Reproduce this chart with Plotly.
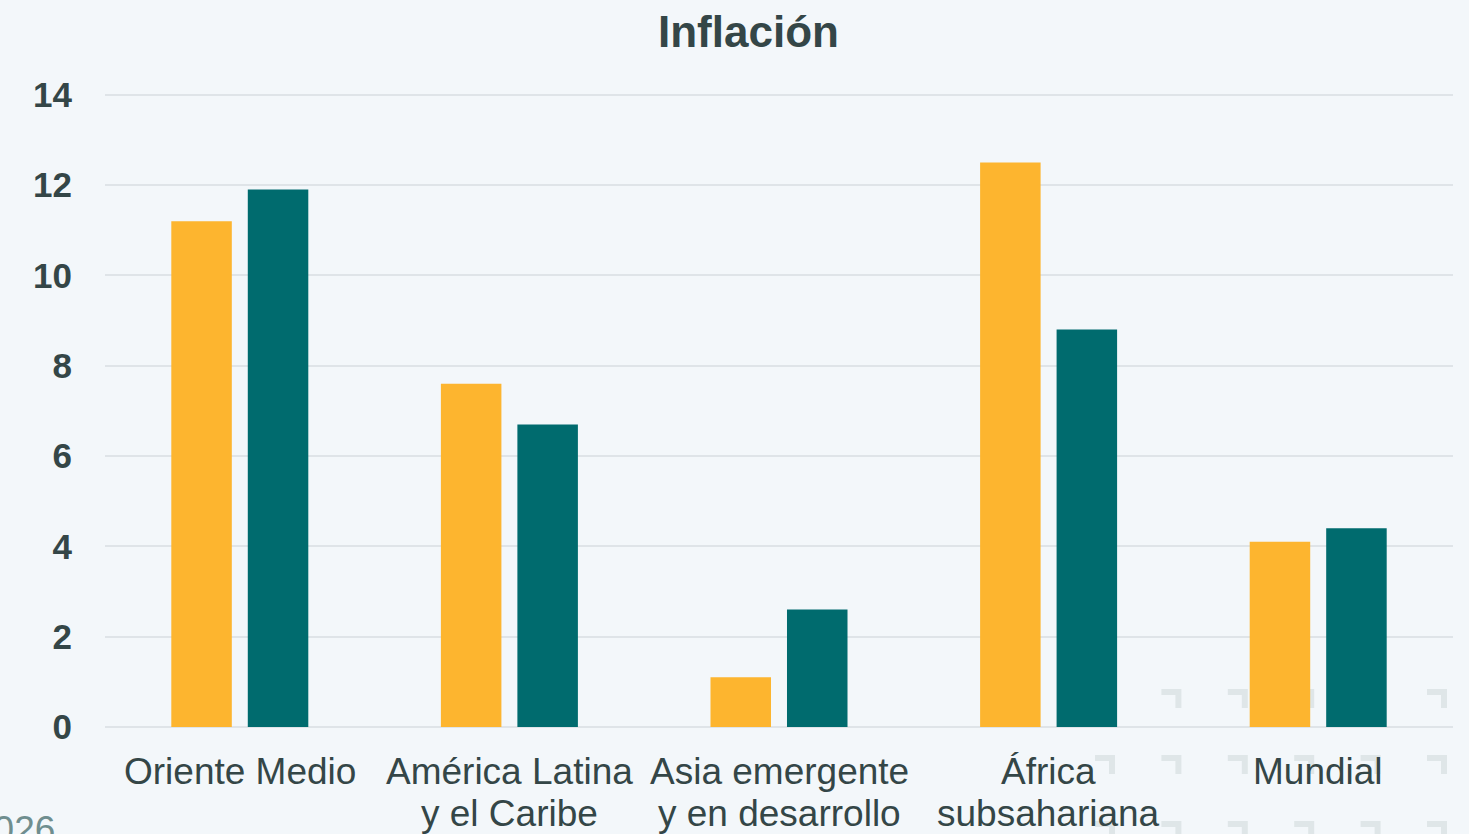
import plotly.graph_objects as go

categories = ["Oriente Medio", "América Latina y el Caribe", "Asia emergente y en desarrollo",
              "África subsahariana", "Mundial"]
label_line1 = ["Oriente Medio", "América Latina", "Asia emergente", "África", "Mundial"]
label_line2 = ["", "y el Caribe", "y en desarrollo", "subsahariana", ""]
series_a = [11.2, 7.6, 1.1, 12.5, 4.1]
series_b = [11.9, 6.7, 2.6, 8.8, 4.4]
y_ticks = [0, 2, 4, 6, 8, 10, 12, 14]

W, H = 1469, 834
Y_TOP = 14.06
ML, MR, MB = 105, 16, 107
PH = (H - MB - 95) * Y_TOP / 14
MT = H - MB - PH
PW = W - ML - MR

def px_x(px):
    return (px - ML) / PW

def px_y(py):
    return (H - MB - py) / PH

BG = "#F3F7FA"
TXT = "#344647"
ORANGE = "#FDB52F"
TEAL = "#006B6E"
FONT = "Liberation Sans, Arial"

fig = go.Figure()
fig.add_trace(go.Bar(x=categories, y=series_a, marker=dict(color=ORANGE, line=dict(width=0)),
                     showlegend=False, hoverinfo="y"))
fig.add_trace(go.Bar(x=categories, y=series_b, marker=dict(color=TEAL, line=dict(width=0)),
                     showlegend=False, hoverinfo="y"))

annotations = [dict(text="<b>Inflación</b>", xref="paper", yref="paper",
                    x=px_x(748), y=px_y(32), xanchor="center", yanchor="middle",
                    showarrow=False, font=dict(size=44, color=TXT, family=FONT))]
for cat, l1, l2 in zip(categories, label_line1, label_line2):
    annotations.append(dict(text=l1, x=cat, xref="x", yref="paper", y=px_y(771), yanchor="middle",
                            xanchor="center", showarrow=False,
                            font=dict(size=37, color=TXT, family=FONT)))
    if l2:
        annotations.append(dict(text=l2, x=cat, xref="x", yref="paper", y=px_y(813), yanchor="middle",
                                xanchor="center", showarrow=False,
                                font=dict(size=37, color=TXT, family=FONT)))
annotations.append(dict(text="2026", xref="paper", yref="paper", x=px_x(57), y=px_y(829),
                        xanchor="right", yanchor="middle", showarrow=False,
                        font=dict(size=37, color="#6F8E8F", family=FONT)))

# decorative corner marks in the background
shapes = []
cols = [1095 + 66.4 * k for k in range(6)]
rows = [689, 755, 821]
for ry in rows:
    for cx in cols:
        path = (f"M {px_x(cx)},{px_y(ry)} L {px_x(cx + 20)},{px_y(ry)} L {px_x(cx + 20)},{px_y(ry + 19)} "
                f"L {px_x(cx + 14)},{px_y(ry + 19)} L {px_x(cx + 14)},{px_y(ry + 6)} L {px_x(cx)},{px_y(ry + 6)} Z")
        shapes.append(dict(type="path", path=path, xref="paper", yref="paper",
                           fillcolor="#DFE6E8", line=dict(width=0), layer="below"))

fig.update_layout(
    width=W, height=H,
    margin=dict(l=ML, r=MR, t=MT, b=MB, pad=0),
    paper_bgcolor=BG, plot_bgcolor=BG,
    barmode="group", bargap=0.4325, bargroupgap=0.209,
    font=dict(family=FONT, color=TXT),
    xaxis=dict(showticklabels=False, showgrid=False, zeroline=False, showline=False, ticks=""),
    yaxis=dict(range=[0, Y_TOP], tickvals=y_ticks, showgrid=True, gridcolor="#DFE4E8", gridwidth=2,
               zeroline=True, zerolinecolor="#DFE4E8", zerolinewidth=2, showline=False,
               tickfont=dict(size=35, color=TXT, family=FONT, weight="bold"),
               ticklabelstandoff=32),
    annotations=annotations, shapes=shapes,
)
fig.write_html("out.html", config={"displayModeBar": False},
               post_script="document.body.style.margin='0';document.body.style.overflow='hidden';"
                           "document.body.style.background='#F3F7FA';")
